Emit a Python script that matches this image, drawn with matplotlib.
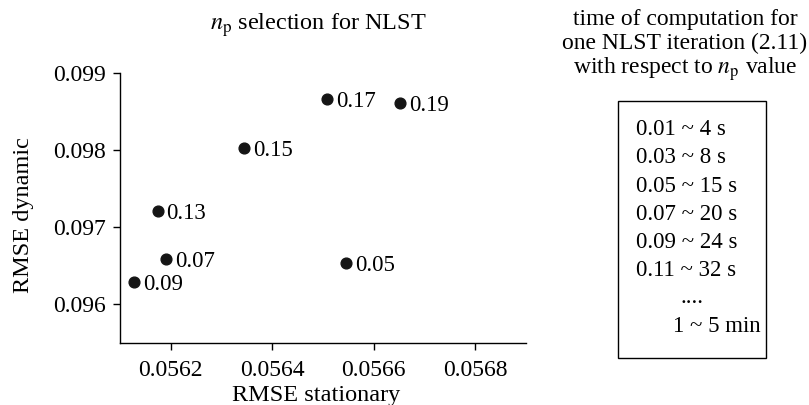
import numpy as np
import matplotlib.pyplot as plt
from matplotlib.patches import Rectangle

plt.rcParams['font.family'] = ['Liberation Serif', 'DejaVu Serif']
plt.rcParams['mathtext.fontset'] = 'stix'

# n_p values and the two RMSE measures
np_labels = ['0.05', '0.07', '0.09', '0.13', '0.15', '0.17', '0.19']
rmse_stationary = [0.056545, 0.056190, 0.056127, 0.056174, 0.056344, 0.056508, 0.056653]
rmse_dynamic = [0.096532, 0.096592, 0.096290, 0.097216, 0.098034, 0.098666, 0.098618]

x_ticks = [0.0562, 0.0564, 0.0566, 0.0568]
y_ticks = [0.096, 0.097, 0.098, 0.099]

# computation time table on the right
header_lines = ['time of computation for',
                'one NLST iteration (2.11)',
                r'with respect to $n_{\mathrm{p}}$ value']
time_lines = ['0.01 ~ 4 s', '0.03 ~ 8 s', '0.05 ~ 15 s', '0.07 ~ 20 s',
              '0.09 ~ 24 s', '0.11 ~ 32 s']
tail_lines = ['....', '1 ~ 5 min']

W, H = 809, 405
fig = plt.figure(figsize=(W / 100, H / 100), dpi=100)
ax = fig.add_axes([120 / W, 1 - 343 / H, (525.7 - 120) / W, (343 - 73.3) / H])

ax.scatter(rmse_stationary, rmse_dynamic, s=60, color='#151515', zorder=3)
for x, y, lab in zip(rmse_stationary, rmse_dynamic, np_labels):
    ax.annotate(lab, (x, y), xytext=(6.5, 0), textcoords='offset points',
                ha='left', va='center_baseline', fontsize=16.5)

ax.set_xlim(0.0561, 0.0569)
ax.set_ylim(0.0955, 0.099)
ax.set_xticks(x_ticks)
ax.set_xticklabels([f'{v:.4f}' for v in x_ticks])
ax.set_yticks(y_ticks)
ax.set_yticklabels([f'{v:.3f}' for v in y_ticks])
ax.tick_params(direction='out', length=5, width=1, labelsize=17)
ax.tick_params(axis='x', pad=7)
ax.tick_params(axis='y', pad=5)
for side in ['top', 'right']:
    ax.spines[side].set_visible(False)
for side in ['left', 'bottom']:
    ax.spines[side].set_linewidth(1)

ax.set_xlabel('RMSE stationary', fontsize=17.5)
ax.xaxis.set_label_coords((316 - 120) / 405.7, (343 - 385) / 269.7)
ax.set_ylabel('RMSE dynamic', fontsize=17.5)
ax.yaxis.set_label_coords((34 - 120) / 405.7, (343 - 215) / 269.7)
fig.text(318 / W, 1 - 30 / H, r'$n_{\mathrm{p}}$ selection for NLST',
         ha='center', va='baseline', fontsize=17.5)

# right hand note
for i, line in enumerate(header_lines):
    fig.text(685 / W, 1 - (25 + 24.5 * i) / H, line, ha='center', va='baseline', fontsize=17)

fig.patches.append(Rectangle((617.5 / W, 1 - 358.3 / H), (766 - 617.5) / W, (358.3 - 101.3) / H,
                             transform=fig.transFigure, fill=False, edgecolor='black', linewidth=1))
for i, line in enumerate(time_lines):
    fig.text(636 / W, 1 - (135 + 28.3 * i) / H, line, ha='left', va='baseline', fontsize=16.5)
fig.text(692 / W, 1 - 303 / H, tail_lines[0], ha='center', va='baseline', fontsize=16.5)
fig.text(673 / W, 1 - 332 / H, tail_lines[1], ha='left', va='baseline', fontsize=16.5)

fig.savefig('out.png', dpi=100)
